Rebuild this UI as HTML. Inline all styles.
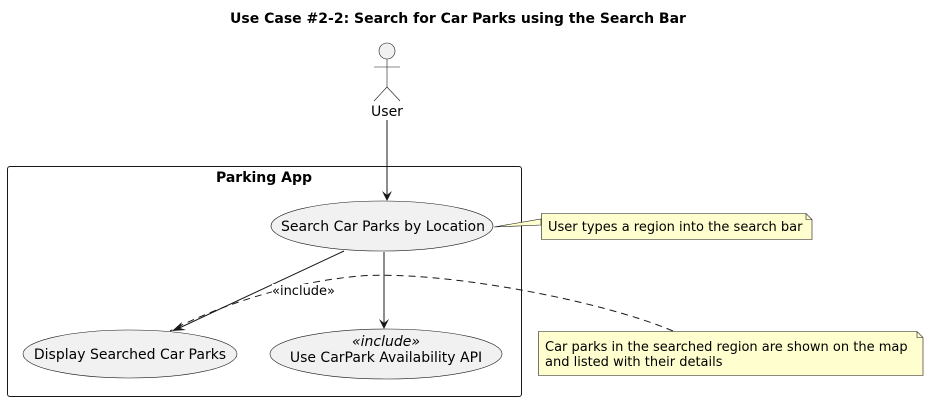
<!DOCTYPE html>
<html><head><style>body{margin:0;background:#fff}svg{display:block}</style></head><body>
<svg width="929" height="400" xmlns="http://www.w3.org/2000/svg" font-family="DejaVu Sans, Liberation Sans, sans-serif">
<text x="458" y="23" text-anchor="middle" font-weight="bold" font-size="14">Use Case #2-2: Search for Car Parks using the Search Bar</text>
<circle cx="387" cy="51" r="8" fill="#f1f1f1" stroke="#181818" stroke-width="0.6"/>
<line x1="387" y1="59" x2="387" y2="87" stroke="#181818" stroke-width="0.6"/>
<line x1="374" y1="67" x2="400" y2="67" stroke="#181818" stroke-width="0.6"/>
<line x1="387" y1="87" x2="374" y2="101" stroke="#181818" stroke-width="0.6"/>
<line x1="387" y1="87" x2="400" y2="101" stroke="#181818" stroke-width="0.6"/>
<text x="387" y="116" text-anchor="middle" font-size="14">User</text>
<rect x="7.5" y="166.5" width="514" height="230" rx="2.5" fill="none" stroke="#181818"/>
<text x="264" y="182" text-anchor="middle" font-weight="bold" font-size="14">Parking App</text>
<line x1="387" y1="120" x2="387" y2="200" stroke="#181818"/>
<path d="M382,191 L387,201 L392,191 L387,195 Z" fill="#181818"/>
<ellipse cx="382" cy="226" rx="111" ry="25" fill="#f1f1f1" stroke="#181818" stroke-width="0.6"/>
<text x="383" y="231" text-anchor="middle" font-size="14">Search Car Parks by Location</text>
<ellipse cx="130" cy="354" rx="107" ry="24" fill="#f1f1f1" stroke="#181818" stroke-width="0.6"/>
<text x="130" y="359" text-anchor="middle" font-size="14">Display Searched Car Parks</text>
<ellipse cx="386" cy="354" rx="116" ry="25" fill="#f1f1f1" stroke="#181818" stroke-width="0.6"/>
<text x="386" y="346" text-anchor="middle" font-size="14" font-style="italic">«include»</text>
<text x="386" y="362" text-anchor="middle" font-size="14">Use CarPark Availability API</text>
<line x1="384" y1="252" x2="384" y2="328" stroke="#181818"/>
<path d="M379,319 L384,329 L389,319 L384,323 Z" fill="#181818"/>
<line x1="344" y1="251" x2="175" y2="330" stroke="#181818"/>
<path d="M182,322 L172,331 L186,330 L180,328 Z" fill="#181818"/>
<path d="M673,331 C600,300 440,270 360,276 C290,282 220,305 170,331" fill="none" stroke="#181818" stroke-dasharray="7,5"/>
<rect x="272" y="284" width="66" height="15" fill="#fff"/>
<text x="272" y="295" font-size="13">«include»</text>
<path d="M494,227 L541,219 L541,225 Z" fill="#fefece" stroke="#181818" stroke-width="0.6"/>
<path d="M541.5,213.5 H806 L812,219.5 V239.5 H541.5 Z" fill="#fefece" stroke="#181818" stroke-width="0.6"/>
<path d="M806,213.5 V219.5 H812" fill="none" stroke="#181818" stroke-width="0.6"/>
<text x="548" y="231" font-size="13">User types a region into the search bar</text>
<path d="M538.5,331.5 H917 L923,337.5 V375.5 H538.5 Z" fill="#fefece" stroke="#181818" stroke-width="0.6"/>
<path d="M917,331.5 V337.5 H923" fill="none" stroke="#181818" stroke-width="0.6"/>
<text x="545" y="351" font-size="13">Car parks in the searched region are shown on the map</text>
<text x="545" y="366" font-size="13">and listed with their details</text>
</svg>
</body></html>
